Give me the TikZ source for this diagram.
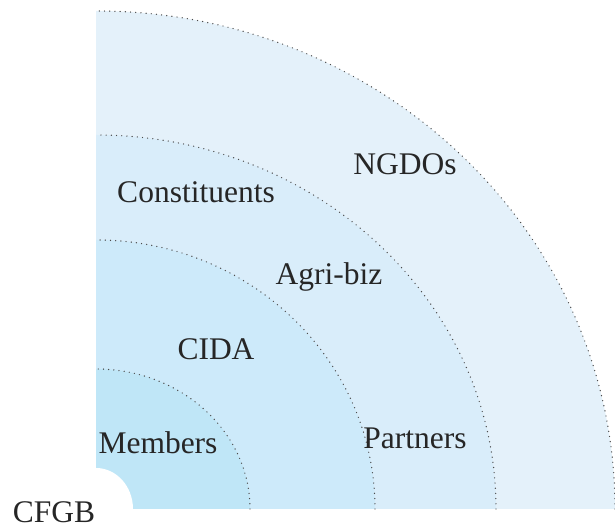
\documentclass[tikz,border=0pt]{standalone}
\usepackage{fontspec}
\setmainfont{Liberation Serif}
\begin{document}
\begin{tikzpicture}[x=1pt,y=1pt,
  dotline/.style={line width=1.4pt,line cap=round,dash pattern=on 0pt off 5.2pt,black!70},
  lbl/.style={anchor=base,inner sep=0pt,text=black!85,font=\fontsize{31.5}{38}\selectfont}]
\definecolor{ringA}{RGB}{228,241,250}
\definecolor{ringB}{RGB}{217,237,250}
\definecolor{ringC}{RGB}{205,234,250}
\definecolor{ringD}{RGB}{191,230,247}
\useasboundingbox (-96,-20) rectangle (519,509);

% filled quarter rings, outside in
\fill[ringA] (0,0) -- (519,0) arc[start angle=0,end angle=90,x radius=519,y radius=498] -- cycle;
\fill[ringB] (0,0) -- (400,0) arc[start angle=0,end angle=90,x radius=400,y radius=374] -- cycle;
\fill[ringC] (0,0) -- (279,0) arc[start angle=0,end angle=90,x radius=279,y radius=269] -- cycle;
\fill[ringD] (0,0) -- (154,0) arc[start angle=0,end angle=90,x radius=154,y radius=140] -- cycle;
\fill[white] (0,0) -- (37,0) arc[start angle=0,end angle=90,x radius=37,y radius=41] -- cycle;

% dotted borders
\draw[dotline] (519,0) arc[start angle=0,end angle=90,x radius=519,y radius=498];
\draw[dotline] (400,0) arc[start angle=0,end angle=90,x radius=400,y radius=374];
\draw[dotline] (279,0) arc[start angle=0,end angle=90,x radius=279,y radius=269];
\draw[dotline] (154,0) arc[start angle=0,end angle=90,x radius=154,y radius=140];

\node[lbl] (cfgb) at (-42,-14) {CFGB};
\node[lbl] (members) at (62,55) {Members};
\node[lbl] (cida) at (120,149) {CIDA};
\node[lbl] (partners) at (319,60) {Partners};
\node[lbl] (agribiz) at (233,224) {Agri-biz};
\node[lbl] (constituents) at (100,306) {Constituents};
\node[lbl] (ngdos) at (309,334) {NGDOs};
\end{tikzpicture}
\end{document}
